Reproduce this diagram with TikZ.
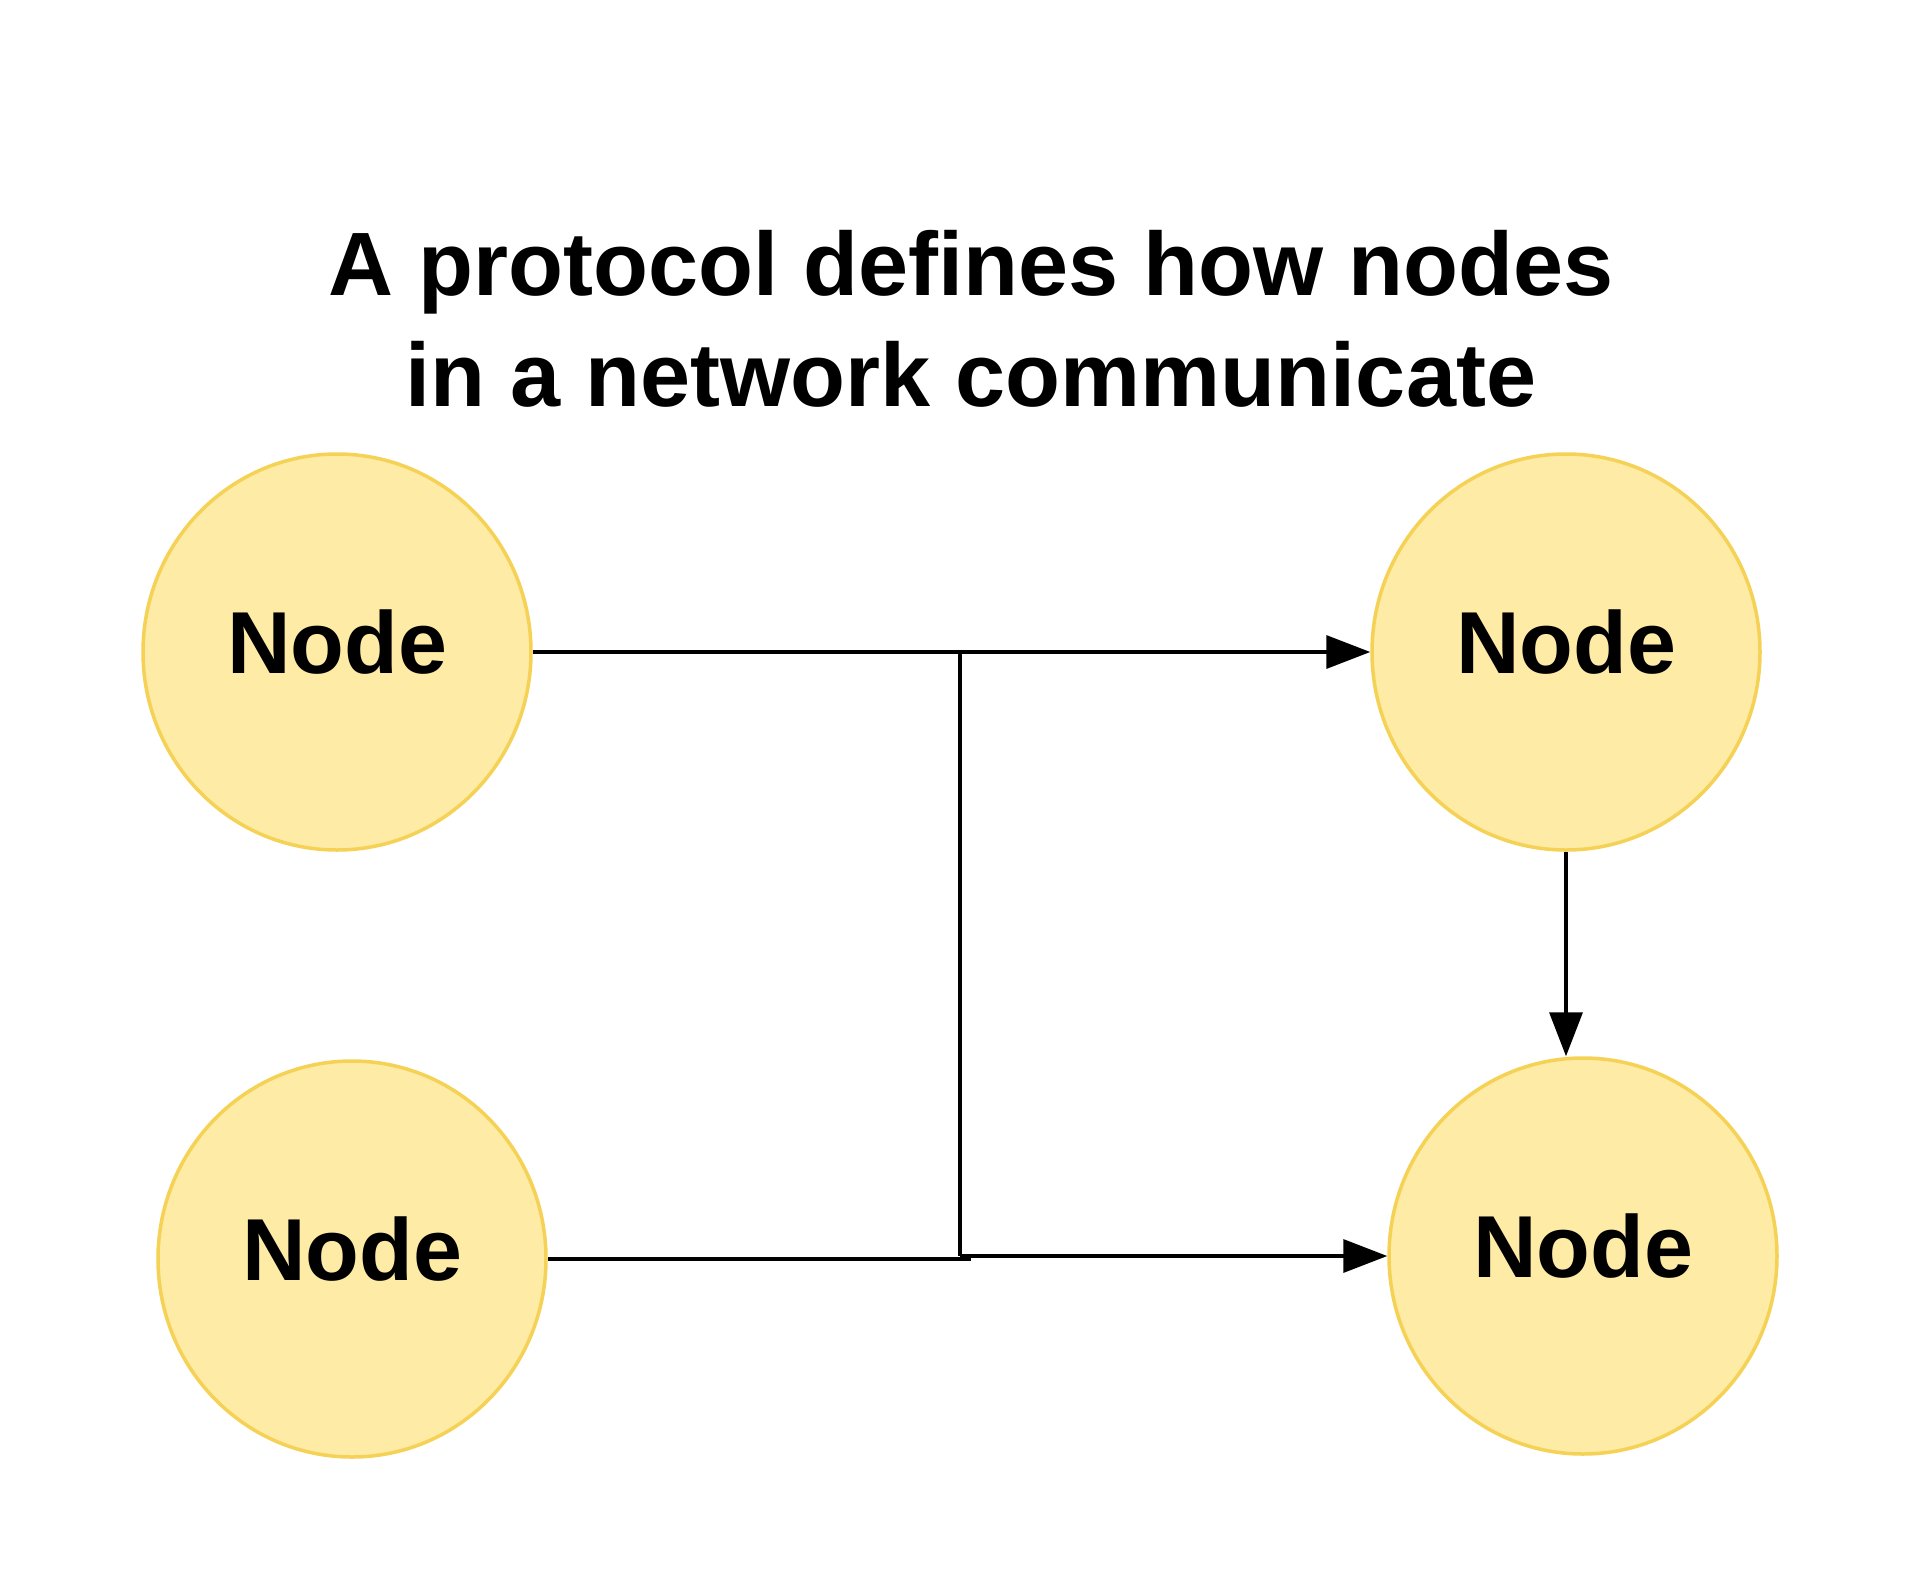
\documentclass[tikz,border=0pt]{standalone}
\usepackage{fontspec}
\setmainfont{Liberation Sans}
\usetikzlibrary{arrows.meta,shapes.geometric}
\definecolor{nodefill}{RGB}{253,235,166}
\definecolor{nodeedge}{RGB}{245,210,85}
\definecolor{linecol}{RGB}{0,0,0}
\tikzset{
  netnode/.style={ellipse, draw=nodeedge, fill=nodefill, line width=3.5pt,
    minimum width=388pt, minimum height=396pt, inner sep=0pt,
    text height=66pt, text depth=24pt,
    font=\fontsize{88}{100}\selectfont\bfseries},
  titletext/.style={anchor=base, inner sep=0pt,
    font=\fontsize{90}{108}\selectfont\bfseries},
  conn/.style={draw=linecol, line width=3.5pt},
  arr/.style={conn, -{Triangle[length=44pt,width=33pt]}},
}
\begin{document}
\begin{tikzpicture}[x=1pt,y=-1pt]
\useasboundingbox[fill=white] (0,0) rectangle (1920,1585);
\node[titletext] (title1) at (971,295) {A protocol defines how nodes};
\node[titletext] (title2) at (971,406) {in a network communicate};
\node[netnode] (TL) at (337,652) {Node};
\node[netnode] (TR) at (1566,652) {Node};
\node[netnode] (BL) at (352,1259) {Node};
\node[netnode] (BR) at (1583,1256) {Node};
\coordinate (jt) at (960,652);
\coordinate (jb) at (960,1256);
\coordinate (jbe) at (971,1259);
\draw[arr] (TL.east) -- (TR.west);
\draw[conn] (jt) -- (jb);
\draw[conn] (BL.east) -- (jbe);
\draw[arr] (jb) -- (BR.west);
\draw[arr] (TR.south) -- (TR.south |- BR.north);
\end{tikzpicture}
\end{document}
